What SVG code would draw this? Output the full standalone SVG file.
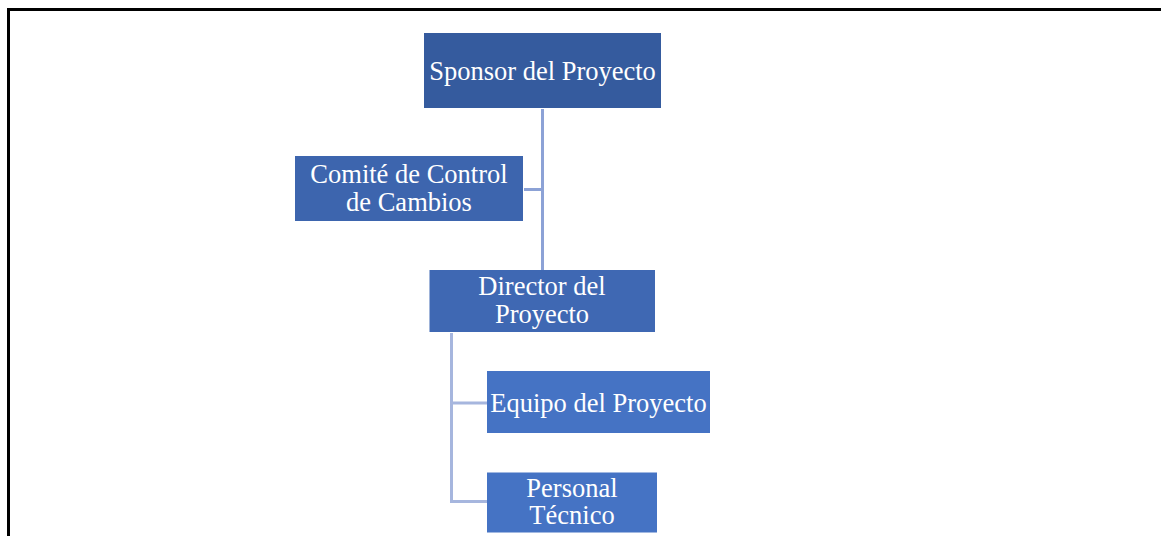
<svg xmlns="http://www.w3.org/2000/svg" width="1161" height="536" viewBox="0 0 1161 536">
<style>
.t{font-family:"Liberation Serif","Times New Roman",serif;font-size:26.5px;fill:#fff;text-anchor:middle}
.c1{stroke:#8CA2D6;stroke-width:3;fill:none}
.c2{stroke:#A6B6DE;stroke-width:3;fill:none}
</style>
<rect width="1161" height="536" fill="#fff"/>
<path d="M8.5 536 V9.5 H1161" fill="none" stroke="#000" stroke-width="3"/>
<g id="connectors">
<path class="c1" d="M542.5 109 V270 M524 189.5 H542.5"/>
<path class="c2" d="M451.5 333 V501.5 H487 M451.5 403 H487"/>
</g>
<g id="sponsor">
<rect x="424" y="33" width="237" height="75" fill="#355B9E"/>
<text class="t" x="542.5" y="79.5">Sponsor del Proyecto</text>
</g>
<g id="comite">
<rect x="295" y="156" width="228" height="65" fill="#3D65AE"/>
<text class="t" x="409" y="183">Comité de Control</text>
<text class="t" x="409" y="210.5">de Cambios</text>
</g>
<g id="director">
<rect x="429.5" y="270" width="225.5" height="62" fill="#3F68B3"/>
<text class="t" x="542" y="295">Director del</text>
<text class="t" x="542" y="323">Proyecto</text>
</g>
<g id="equipo">
<rect x="487" y="371" width="223" height="62" fill="#4573C4"/>
<text class="t" x="598.5" y="411.5">Equipo del Proyecto</text>
</g>
<g id="personal">
<rect x="487" y="472.5" width="170" height="60" fill="#4573C4"/>
<text class="t" x="572" y="496.5">Personal</text>
<text class="t" x="572" y="524">Técnico</text>
</g>
</svg>
